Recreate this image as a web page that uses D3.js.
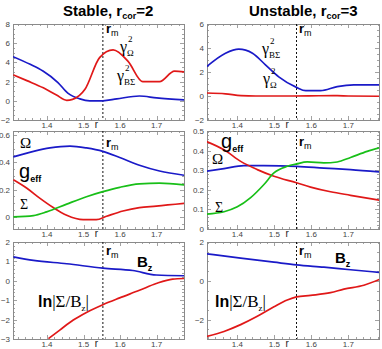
<!DOCTYPE html>
<html><head><meta charset="utf-8">
<script src="https://cdn.jsdelivr.net/npm/d3@7"></script>
<style>body{margin:0;background:#fff}svg{display:block}</style>
</head><body><svg id="c" width="382" height="349"></svg>
<script>
// ---------- data ----------
const xTicks = [1.4, 1.5, 1.6, 1.7];
const rMStable = 1.553, rMUnstable = 1.56;

// top row: growth rates
const stableGammaBS = [[1.307,4.6],[1.354,3.8],[1.389,3.1],[1.43,1.9],[1.457,0.8],[1.49,0.2],[1.517,0.0],[1.553,0.0],[1.591,0.2],[1.653,0.5],[1.70,0.3],[1.776,0.1]];
const stableGammaOm = [[1.308,2.7],[1.345,2.1],[1.39,1.35],[1.426,0.6],[1.454,0.05],[1.47,0.15],[1.504,1.2],[1.544,4.5],[1.581,5.3],[1.622,4.1],[1.662,2.0],[1.708,2.0],[1.749,3.1],[1.776,3.0]];
const unstGammaBS = [[1.317,2.44],[1.368,3.56],[1.404,3.9],[1.441,3.56],[1.476,2.6],[1.512,1.6],[1.56,0.72],[1.585,0.44],[1.625,0.44],[1.67,0.78],[1.715,0.92],[1.787,0.92]];
const unstGammaOm = [[1.317,0.25],[1.368,0.18],[1.41,0.03],[1.45,0.0],[1.55,0.0],[1.62,0.02],[1.67,0.03],[1.70,0.0],[1.787,-0.02]];

// middle row: Omega, g_eff, Sigma
const stableOmega = [[1.308,0.44],[1.363,0.48],[1.408,0.505],[1.463,0.518],[1.508,0.505],[1.553,0.48],[1.599,0.435],[1.653,0.378],[1.708,0.336],[1.776,0.305]];
const stableGeff = [[1.308,0.272],[1.345,0.21],[1.381,0.136],[1.417,0.069],[1.454,0.012],[1.499,-0.02],[1.535,-0.02],[1.563,0.005],[1.608,0.044],[1.653,0.069],[1.699,0.079],[1.776,0.099]];
const stableSigma = [[1.308,0.0],[1.363,0.01],[1.399,0.037],[1.454,0.094],[1.508,0.148],[1.553,0.185],[1.599,0.217],[1.653,0.242],[1.708,0.247],[1.776,0.235]];
const unstOmega = [[1.317,0.295],[1.364,0.308],[1.418,0.323],[1.472,0.323],[1.56,0.32],[1.634,0.311],[1.706,0.303],[1.787,0.291]];
const unstGeff = [[1.317,0.446],[1.364,0.404],[1.409,0.345],[1.454,0.303],[1.499,0.269],[1.56,0.236],[1.598,0.214],[1.652,0.19],[1.706,0.172],[1.787,0.146]];
const unstSigma = [[1.317,0.076],[1.364,0.088],[1.40,0.113],[1.436,0.16],[1.472,0.227],[1.499,0.286],[1.535,0.32],[1.56,0.332],[1.589,0.342],[1.634,0.337],[1.67,0.342],[1.706,0.365],[1.751,0.396],[1.787,0.416]];

// bottom row: Bz, ln|Sigma/Bz|
const stableBz = [[1.308,1.23],[1.363,1.05],[1.454,0.88],[1.553,0.65],[1.635,0.53],[1.699,0.3],[1.776,0.26]];
const stableLn = [[1.404,-2.98],[1.435,-2.54],[1.472,-2.02],[1.508,-1.63],[1.553,-1.23],[1.599,-0.88],[1.653,-0.49],[1.699,-0.14],[1.744,0.09],[1.776,0.12]];
const unstBz = [[1.317,1.39],[1.409,1.17],[1.499,0.96],[1.56,0.82],[1.634,0.7],[1.706,0.57],[1.787,0.43]];
const unstLn = [[1.317,-2.87],[1.364,-2.61],[1.409,-2.26],[1.454,-1.83],[1.499,-1.34],[1.535,-0.99],[1.56,-0.83],[1.598,-0.75],[1.652,-0.61],[1.688,-0.43],[1.742,-0.23],[1.787,0.09]];

// ---------- layout ----------
const svg = d3.select('#c');
const BLUE = '#1a1ac8', RED = '#e01818', GREEN = '#18bf18';
const cols = [{x0:13, x1:184, dom:[1.307,1.775]}, {x0:207, x1:379, dom:[1.318,1.783]}];
const rows = [{y0:24, y1:120}, {y0:131, y1:229}, {y0:242, y1:339}];

const panels = [
 {c:0, r:0, yDom:[-2,8], yTicks:[-2,0,2,4,6,8], yMinor:0.5, rm:rMStable, series:[[stableGammaBS,BLUE],[stableGammaOm,RED]]},
 {c:1, r:0, yDom:[-2,6], yTicks:[-2,0,2,4,6], yMinor:0.5, rm:rMUnstable, series:[[unstGammaBS,BLUE],[unstGammaOm,RED]]},
 {c:0, r:1, yDom:[-0.088,0.629], yTicks:[0,0.2,0.4,0.6], yMinor:0.05, rm:rMStable, series:[[stableOmega,BLUE],[stableGeff,RED],[stableSigma,GREEN]]},
 {c:1, r:1, yDom:[0,0.5], yTicks:[0,0.1,0.2,0.3,0.4,0.5], yMinor:0.02, rm:rMUnstable, series:[[unstOmega,BLUE],[unstGeff,RED],[unstSigma,GREEN]]},
 {c:0, r:2, yDom:[-3,2], yTicks:[-3,-2,-1,0,1,2], yMinor:0.2, rm:rMStable, series:[[stableBz,BLUE],[stableLn,RED]]},
 {c:1, r:2, yDom:[-3,2], yTicks:[-2,0,2], yMinor:0.5, rm:rMUnstable, series:[[unstBz,BLUE],[unstLn,RED]]},
];

const FRAME = '#8a8a8a';
const fmtY = d => (d === 0 ? '0' : (Math.abs(d) < 1 ? d3.format('.1f')(d) : d3.format('d')(d)));

panels.forEach(p => {
  const C = cols[p.c], R = rows[p.r];
  const x = d3.scaleLinear().domain(C.dom).range([C.x0, C.x1]);
  const y = d3.scaleLinear().domain(p.yDom).range([R.y1, R.y0]);
  const g = svg.append('g');

  // minor / major ticks on all four sides
  const xMinor = d3.range(Math.ceil(C.dom[0]/0.02)*0.02, C.dom[1], 0.02);
  const yMin = d3.range(Math.ceil(p.yDom[0]/p.yMinor)*p.yMinor, p.yDom[1]+1e-9, p.yMinor);
  const tk = g.append('g').attr('stroke', FRAME).attr('stroke-width', 0.8);
  xMinor.forEach(v => {
    const isMaj = xTicks.some(t => Math.abs(t - v) < 1e-6);
    const L = isMaj ? 4 : 2;
    const X = Math.round(x(v)) + 0.5;
    tk.append('line').attr('x1', X).attr('x2', X).attr('y1', R.y1).attr('y2', R.y1 - L);
    tk.append('line').attr('x1', X).attr('x2', X).attr('y1', R.y0).attr('y2', R.y0 + L);
  });
  yMin.forEach(v => {
    const isMaj = p.yTicks.some(t => Math.abs(t - v) < 1e-6);
    const L = isMaj ? 4 : 2;
    const Y = Math.round(y(v)) + 0.5;
    tk.append('line').attr('x1', C.x0).attr('x2', C.x0 + L).attr('y1', Y).attr('y2', Y);
    tk.append('line').attr('x1', C.x1).attr('x2', C.x1 - L).attr('y1', Y).attr('y2', Y);
  });

  // frame
  g.append('rect').attr('x', C.x0 + 0.5).attr('y', R.y0 + 0.5)
   .attr('width', C.x1 - C.x0).attr('height', R.y1 - R.y0)
   .attr('fill', 'none').attr('stroke', FRAME).attr('stroke-width', 1);

  // tick labels
  const lab = g.append('g').attr('font-family', 'Liberation Sans, Arial, sans-serif').attr('font-size', 8).attr('fill', '#444');
  p.yTicks.forEach(v => {
    lab.append('text').attr('x', C.x0 - 3).attr('y', y(v) + 3).attr('text-anchor', 'end').text(fmtY(v));
  });
  xTicks.forEach(v => {
    lab.append('text').attr('x', x(v)).attr('y', R.y1 + 8).attr('text-anchor', 'middle').text(d3.format('.1f')(v));
  });
  lab.append('text').attr('x', x(1.535)).attr('y', R.y1 + 8).attr('text-anchor', 'middle')
     .attr('font-size', 10).attr('fill', '#222').text('r');

  // r_m dotted line
  g.append('line').attr('x1', x(p.rm)).attr('x2', x(p.rm)).attr('y1', R.y0).attr('y2', R.y1)
   .attr('stroke', '#111').attr('stroke-width', 1).attr('stroke-dasharray', '2,2');

  // curves
  const line = d3.line().x(d => x(d[0])).y(d => y(d[1])).curve(d3.curveMonotoneX);
  const clipId = 'clip' + p.c + p.r;
  g.append('clipPath').attr('id', clipId).append('rect')
   .attr('x', C.x0).attr('y', R.y0).attr('width', C.x1 - C.x0).attr('height', R.y1 - R.y0);
  p.series.forEach(([data, col]) => {
    g.append('path').datum(data).attr('d', line).attr('fill', 'none')
     .attr('stroke', col).attr('stroke-width', 1.7).attr('clip-path', `url(#${clipId})`);
  });
});

// ---------- rich text helper ----------
const SANS = 'Liberation Sans, Arial, sans-serif';
const SERIF = 'Liberation Serif, Times New Roman, serif';
function rich(x, y, parts, anchor) {
  const t = svg.append('text').attr('x', x).attr('y', y).attr('fill', '#000');
  if (anchor) t.attr('text-anchor', anchor);
  let cur = 0;
  parts.forEach(pp => {
    const s = t.append('tspan').text(pp.t)
      .attr('font-family', pp.f || SANS).attr('font-size', pp.s || 12)
      .attr('font-weight', pp.w || 'normal');
    const target = pp.dy || 0;
    if (target !== cur) { s.attr('dy', target - cur); cur = target; }
    if (pp.dx) s.attr('dx', pp.dx);
  });
  return t;
}

// titles
rich(63, 16, [{t:'Stable, r', s:15, w:'bold'}, {t:'cor', s:9, w:'bold', dy:3}, {t:'=2', s:15, w:'bold', dy:0}]);
rich(249, 16, [{t:'Unstable, r', s:15, w:'bold'}, {t:'cor', s:9, w:'bold', dy:3}, {t:'=3', s:15, w:'bold', dy:0}]);

// r_m labels
function rmLabel(x, y) { rich(x, y, [{t:'r', s:13, w:'bold'}, {t:'m', s:9, dy:3}]); }
rmLabel(106, 33); rmLabel(299, 33);
rmLabel(106, 147); rmLabel(299, 146);
rmLabel(106, 255); rmLabel(299, 255);

// gamma labels
function gammaLabel(x, y, sub) {
  rich(x, y, [{t:'γ', s:16, f:SERIF}]);
  rich(x + 8, y - 10, [{t:'2', s:9, f:SERIF}]);
  rich(x + 7, y + 4, [{t:sub, s:9, f:SERIF}]);
}
gammaLabel(120, 52, 'Ω');
gammaLabel(117, 81, 'BΣ');
gammaLabel(262, 54, 'BΣ');
gammaLabel(263, 84, 'Ω');

// middle-row labels
rich(20, 148, [{t:'Ω', s:15, f:SERIF}]);
rich(19, 178, [{t:'g', s:20}, {t:'eff', s:9, w:'bold', dy:4}]);
rich(20, 209, [{t:'Σ', s:14, f:SERIF}]);
rich(221, 148, [{t:'g', s:20}, {t:'eff', s:9, w:'bold', dy:4}]);
rich(212, 164, [{t:'Ω', s:15, f:SERIF}]);
rich(215, 212, [{t:'Σ', s:14, f:SERIF}]);

// bottom-row labels
rich(137, 267, [{t:'B', s:15, w:'bold'}, {t:'z', s:9, w:'bold', dy:4}]);
rich(335, 263, [{t:'B', s:15, w:'bold'}, {t:'z', s:9, w:'bold', dy:4}]);
rich(38, 307, [{t:'ln', s:16, w:'bold'}, {t:'|Σ/B', s:17, f:SERIF}, {t:'z', s:9, f:SERIF, dy:4}, {t:'|', s:17, f:SERIF, dy:0}]);
rich(215, 307, [{t:'ln', s:16, w:'bold'}, {t:'|Σ/B', s:17, f:SERIF}, {t:'z', s:9, f:SERIF, dy:4}, {t:'|', s:17, f:SERIF, dy:0}]);
</script></body></html>
